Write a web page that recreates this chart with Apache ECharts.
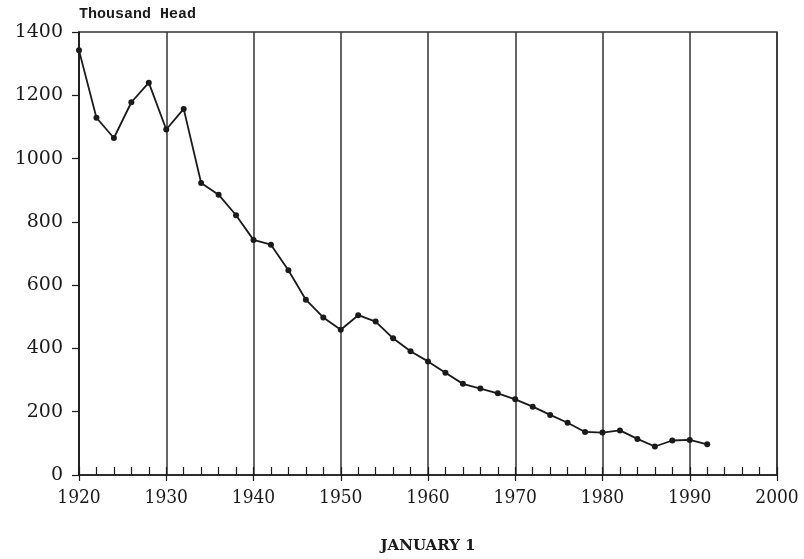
<!DOCTYPE html>
<html>
<head>
<meta charset="utf-8">
<script src="https://cdn.jsdelivr.net/npm/echarts@6/dist/echarts.min.js"></script>
<style>html,body{margin:0;padding:0;background:#fff}#c{width:804px;height:559px}</style>
</head>
<body>
<div id="c"></div>
<script>
const years = [1920,1922,1924,1926,1928,1930,1932,1934,1936,1938,1940,1942,1944,1946,1948,1950,1952,1954,1956,1958,1960,1962,1964,1966,1968,1970,1972,1974,1976,1978,1980,1982,1984,1986,1988,1990,1992];
const head = [1342,1129,1065,1178,1240,1092,1157,923,886,821,743,728,647,554,498,459,505,485,432,391,359,323,288,273,258,239,216,190,165,136,134,141,114,90,109,111,97];
const yTicks = [0,200,400,600,800,1000,1200,1400];
const xTicks = [1920,1930,1940,1950,1960,1970,1980,1990,2000];

const ink = '#1a1a1a';
const chart = echarts.init(document.getElementById('c'), null, {renderer:'canvas'});
chart.setOption({
  animation:false,
  backgroundColor:'#fff',
  grid:{left:79,right:27,top:32,bottom:78,show:true,borderColor:'#333',borderWidth:1.5,backgroundColor:'transparent'},
  xAxis:[{
    type:'value',min:xTicks[0],max:xTicks[xTicks.length-1],interval:10,
    name:'JANUARY 1',nameLocation:'middle',nameGap:64,
    nameTextStyle:{fontFamily:'DejaVu Serif',fontWeight:'bold',fontSize:15,color:ink},
    axisLine:{show:true,onZero:false,lineStyle:{color:ink,width:1.5}},
    axisTick:{show:true,inside:true,length:8,lineStyle:{color:ink,width:1.2}},
    minorTick:{show:true,splitNumber:5,length:8,lineStyle:{color:ink,width:1.2}},
    splitLine:{show:true,lineStyle:{color:'#333',width:1.5}},
    axisLabel:{margin:14,fontFamily:'DejaVu Serif Condensed, DejaVu Serif',fontSize:19,color:ink,formatter:v=>String(v)}
  },{
    type:'value',min:xTicks[0],max:xTicks[xTicks.length-1],interval:10,position:'bottom',
    axisLine:{show:false},
    axisTick:{show:true,inside:false,length:6,lineStyle:{color:ink,width:1.2}},
    axisLabel:{show:false},splitLine:{show:false}
  }],
  yAxis:{
    type:'value',min:yTicks[0],max:yTicks[yTicks.length-1],interval:200,
    name:'Thousand Head',nameLocation:'end',nameGap:10,
    nameTextStyle:{fontFamily:'Liberation Mono',fontWeight:'bold',fontSize:15,color:ink,align:'left'},
    axisLine:{show:true,lineStyle:{color:ink,width:1.5}},
    axisTick:{show:true,inside:false,length:7,lineStyle:{color:ink,width:1.2}},
    splitLine:{show:false},
    axisLabel:{margin:16,fontFamily:'DejaVu Serif',fontSize:19,color:ink,formatter:v=>String(v)}
  },
  series:[{
    type:'line',
    data:years.map((y,i)=>[y,head[i]]),
    symbol:'circle',symbolSize:6,
    lineStyle:{color:ink,width:1.8},
    itemStyle:{color:ink}
  }]
});
</script>
</body>
</html>
